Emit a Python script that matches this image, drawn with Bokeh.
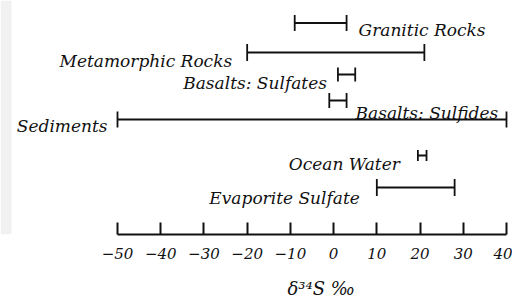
from bokeh.plotting import figure
from bokeh.models import Range1d, ColumnDataSource, Title, FixedTicker, BoxAnnotation
from bokeh.core.properties import value
from bokeh.embed import file_html
from bokeh.resources import INLINE

# ---- data ----
names = ["Granitic Rocks", "Metamorphic Rocks", "Basalts: Sulfates", "Basalts: Sulfides",
         "Sediments", "Ocean Water", "Evaporite Sulfate"]
low = [-9, -20, 1, -1, -50, 19.5, 10]
high = [3, 21, 5, 3, 40, 21.5, 28]
ticks = [-50, -40, -30, -20, -10, 0, 10, 20, 30, 40]
axis_title = "δ³⁴S ‰"

# ---- layout (pixel-based row positions, label placement) ----
row_y = [22.5, 52, 74, 100, 119, 155, 187]
cap_half = [8, 8.5, 7, 7.5, 8, 5.5, 8.5]
label_side = ["right", "left", "left", "right", "left", "left", "left"]
label_dy = [7, 8, 8, 12, 6, 8, 10]
label_gap = [12, 15, 11, 9, 10, 18, 17]

FONT = "DejaVu Serif"

p = figure(frame_width=512, frame_height=234, output_backend="svg", toolbar_location=None,
           x_range=Range1d(-77.07, 41.39), y_range=Range1d(234, 0),
           y_axis_location=None, min_border_left=0, min_border_right=0,
           min_border_top=0, min_border_bottom=0)
p.grid.visible = False
p.outline_line_color = None
p.background_fill_color = "white"
p.border_fill_color = "white"

strip = BoxAnnotation(left=0, right=11, left_units="screen", right_units="screen",
                      fill_color="#f1f1f1", fill_alpha=1, line_color=None, level="underlay")
p.add_layout(strip)

bars = ColumnDataSource(dict(y=row_y, lo=low, hi=high,
                             y0=[y - c for y, c in zip(row_y, cap_half)],
                             y1=[y + c for y, c in zip(row_y, cap_half)]))
p.segment(x0="lo", y0="y", x1="hi", y1="y", source=bars, line_color="#111111", line_width=1.8)
p.segment(x0="lo", y0="y0", x1="lo", y1="y1", source=bars, line_color="#111111", line_width=1.8)
p.segment(x0="hi", y0="y0", x1="hi", y1="y1", source=bars, line_color="#111111", line_width=1.8)

lx = [h if s == "right" else l for s, l, h in zip(label_side, low, high)]
ly = [y + d for y, d in zip(row_y, label_dy)]
lal = ["left" if s == "right" else "right" for s in label_side]
lxo = [g if s == "right" else -g for s, g in zip(label_side, label_gap)]
labels = ColumnDataSource(dict(x=lx, y=ly, text=names, align=lal, xo=lxo))
p.text(x="x", y="y", text="text", source=labels, text_align="align", x_offset="xo",
       text_baseline="alphabetic", text_font=value(FONT), text_font_style="italic",
       text_font_size="17px", text_color="#111111")

ax = p.xaxis[0]
ax.ticker = FixedTicker(ticks=ticks)
ax.bounds = (ticks[0], ticks[-1])
ax.major_tick_in = 12
ax.major_tick_out = 0
ax.minor_tick_in = 0
ax.minor_tick_out = 0
ax.axis_line_width = 2
ax.axis_line_color = "#111111"
ax.major_tick_line_width = 2
ax.major_tick_line_color = "#111111"
ax.major_label_text_font = FONT
ax.major_label_text_font_style = "italic"
ax.major_label_text_font_size = "15px"
ax.major_label_text_color = "#111111"
ax.major_label_standoff = 13

title = Title(text=axis_title, align="left", offset=287, standoff=28,
              text_font=FONT, text_font_style="italic", text_font_size="18px",
              text_color="#111111")
p.add_layout(title, "below")

open("out.html", "w").write(file_html(p, INLINE))
